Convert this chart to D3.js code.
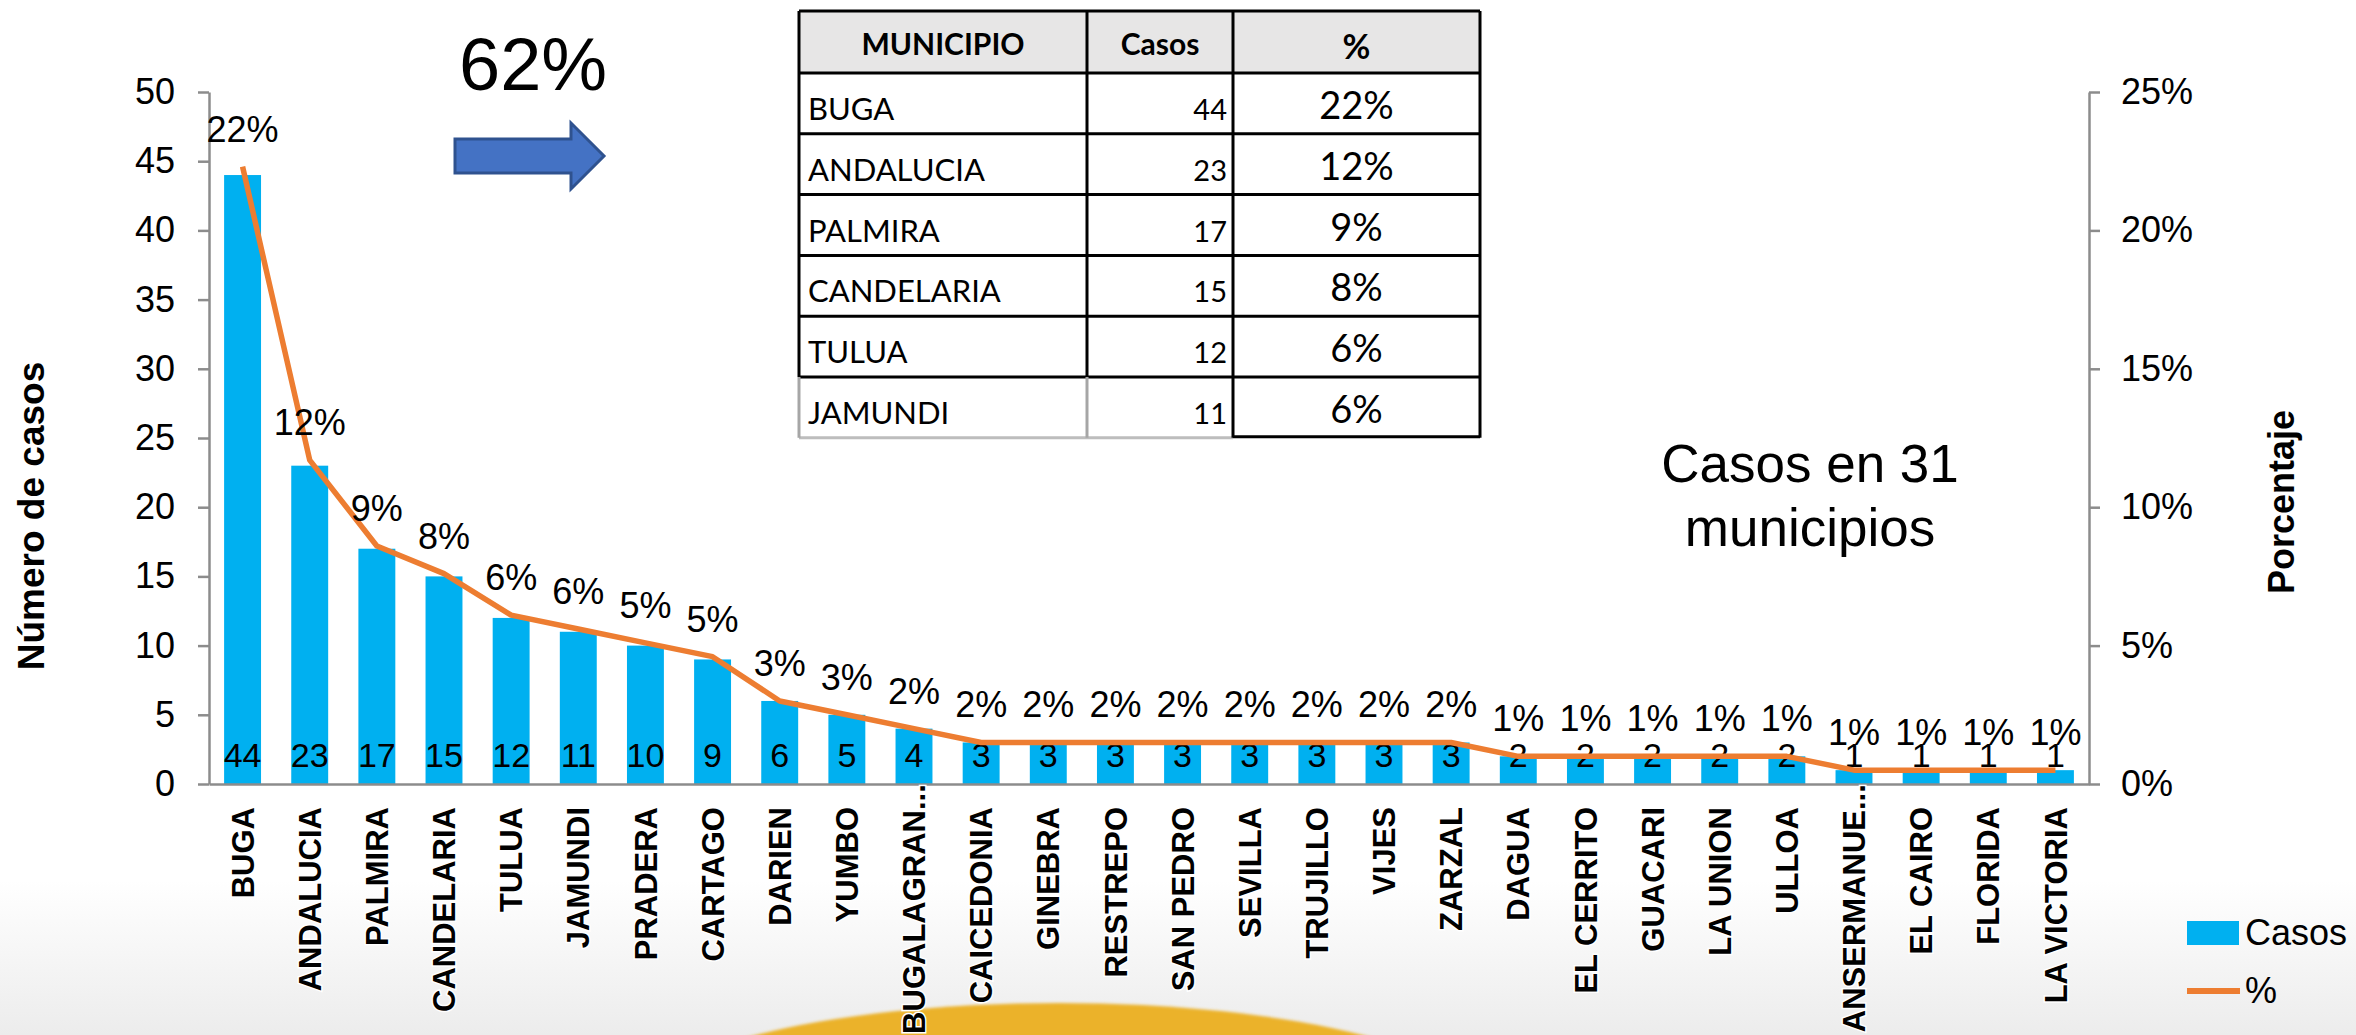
<!DOCTYPE html>
<html>
<head>
<meta charset="utf-8">
<script src="https://cdn.jsdelivr.net/npm/d3@7"></script>
<style>
  body { margin: 0; background: #fff; }
  svg { display: block; font-family: "Liberation Sans", Arial, sans-serif; }
</style>
</head>
<body>
<svg width="2356" height="1035"></svg>
<script>
// datos del grafico
const municipios = ["BUGA", "ANDALUCIA", "PALMIRA", "CANDELARIA", "TULUA", "JAMUNDI", "PRADERA", "CARTAGO",
  "DARIEN", "YUMBO", "BUGALAGRAN...", "CAICEDONIA", "GINEBRA", "RESTREPO", "SAN PEDRO", "SEVILLA",
  "TRUJILLO", "VIJES", "ZARZAL", "DAGUA", "EL CERRITO", "GUACARI", "LA UNION", "ULLOA",
  "ANSERMANUE...", "EL CAIRO", "FLORIDA", "LA VICTORIA"]
const casos = [44, 23, 17, 15, 12, 11, 10, 9, 6, 5, 4, 3, 3, 3, 3, 3, 3, 3, 3, 2, 2, 2, 2, 2, 1, 1, 1, 1]
const porcentaje = [22.3, 11.7, 8.6, 7.6, 6.1, 5.6, 5.1, 4.6, 3.0, 2.5, 2.0, 1.5, 1.5, 1.5, 1.5, 1.5, 1.5, 1.5, 1.5,
  1.0, 1.0, 1.0, 1.0, 1.0, 0.5, 0.5, 0.5, 0.5]
const etiquetasPct = ["22%", "12%", "9%", "8%", "6%", "6%", "5%", "5%", "3%", "3%", "2%", "2%", "2%", "2%", "2%",
  "2%", "2%", "2%", "2%", "1%", "1%", "1%", "1%", "1%", "1%", "1%", "1%", "1%"]
const ticksCasos = [0, 5, 10, 15, 20, 25, 30, 35, 40, 45, 50]
const ticksPct = [0, 5, 10, 15, 20, 25]

// tabla resumen
const tablaMunicipio = ["BUGA", "ANDALUCIA", "PALMIRA", "CANDELARIA", "TULUA", "JAMUNDI"]
const tablaCasos = [44, 23, 17, 15, 12, 11]
const tablaPct = ["22%", "12%", "9%", "8%", "6%", "6%"]

const svg = d3.select('svg')
const width = +svg.attr('width')
const height = +svg.attr('height')

const margin = {top: 92, right: 267, bottom: 251, left: 209}
const baseY = height - margin.bottom

// fondo
const defs = svg.append('defs')
const grad = defs.append('linearGradient').attr('id', 'fondo').attr('x1', 0).attr('x2', 0).attr('y1', 0).attr('y2', 1)
grad.append('stop').attr('offset', '0%').attr('stop-color', '#ffffff')
grad.append('stop').attr('offset', '100%').attr('stop-color', '#ececec')
defs.append('filter').attr('id', 'suave').append('feGaussianBlur').attr('stdDeviation', 1.5)

svg.append('rect').attr('x', 0).attr('y', 880).attr('width', width).attr('height', height - 880)
  .attr('fill', 'url(#fondo)')
svg.append('ellipse').attr('cx', 1059).attr('cy', 1113).attr('rx', 430).attr('ry', 110)
  .attr('fill', '#ebb22c').attr('filter', 'url(#suave)')

const xScale = d3.scaleBand()
  .domain(municipios)
  .range([margin.left, 2089])
  .paddingInner(0.45)
  .paddingOuter(0.225)

const yCasos = d3.scaleLinear().domain([0, 50]).range([baseY, margin.top])
const yPct = d3.scaleLinear().domain([0, 25]).range([baseY, margin.top])

const cx = d => xScale(d) + xScale.bandwidth() / 2

// barras
svg.append('g').selectAll('rect').data(municipios)
  .enter().append('rect')
  .attr('x', d => xScale(d))
  .attr('y', (d, i) => yCasos(casos[i]))
  .attr('width', xScale.bandwidth())
  .attr('height', (d, i) => baseY - yCasos(casos[i]))
  .attr('fill', '#00b0f0')

// ejes
const ejeColor = '#8c8c8c'
const gLeft = svg.append('g').attr('transform', `translate(${margin.left},0)`)
  .call(d3.axisLeft(yCasos).tickValues(ticksCasos).tickSize(11).tickSizeOuter(0).tickPadding(23))
const gRight = svg.append('g').attr('transform', `translate(2089,0)`)
  .call(d3.axisRight(yPct).tickValues(ticksPct).tickSize(11).tickSizeOuter(0).tickPadding(21)
    .tickFormat(d => d + '%'))
const gBottom = svg.append('g').attr('transform', `translate(0,${baseY})`)
  .call(d3.axisBottom(xScale).tickSize(0).tickSizeOuter(0))

;[gLeft, gRight, gBottom].forEach(g => {
  g.select('.domain').attr('stroke', ejeColor).attr('stroke-width', 2.5)
  g.selectAll('.tick line').attr('stroke', ejeColor).attr('stroke-width', 2.5)
  g.selectAll('text').attr('font-family', '"Liberation Sans", Arial, sans-serif').attr('fill', '#000')
})
gLeft.selectAll('text').attr('font-size', 36)
gRight.selectAll('text').attr('font-size', 36)

// nombres truncados: los puntos quedan por encima del borde, como en Excel
const puntos = svg.append('text').attr('font-size', 31).attr('font-weight', 'bold').text('...')
const anchoPuntos = puntos.node().getComputedTextLength()
puntos.remove()

gBottom.selectAll('text')
  .attr('font-size', 31)
  .attr('font-weight', 'bold')
  .attr('text-anchor', 'end')
  .attr('transform', 'rotate(-90)')
  .attr('x', d => d.endsWith('...') ? -23 + anchoPuntos - 3 : -23)
  .attr('y', 0)
  .attr('dy', '0.36em')
  .attr('stroke', '#fff')
  .attr('stroke-width', 3)
  .attr('paint-order', 'stroke')

// etiquetas de casos
svg.append('g').selectAll('text').data(municipios)
  .enter().append('text')
  .attr('x', cx)
  .attr('y', baseY - 17)
  .attr('text-anchor', 'middle')
  .attr('font-size', 34)
  .text((d, i) => casos[i])

// linea de porcentaje
const line = d3.line()
  .x(d => cx(d))
  .y((d, i) => yPct(porcentaje[i]))

svg.append('path')
  .datum(municipios)
  .attr('d', line)
  .attr('fill', 'none')
  .attr('stroke', '#ed7d31')
  .attr('stroke-width', 5.5)
  .attr('stroke-linejoin', 'round')

svg.append('g').selectAll('text').data(municipios)
  .enter().append('text')
  .attr('x', cx)
  .attr('y', (d, i) => yPct(porcentaje[i]) - 25)
  .attr('text-anchor', 'middle')
  .attr('font-size', 36)
  .text((d, i) => etiquetasPct[i])

// titulos de ejes
svg.append('text')
  .attr('transform', 'translate(44,516) rotate(-90)')
  .attr('text-anchor', 'middle')
  .attr('font-size', 37)
  .attr('font-weight', 'bold')
  .text('Número de casos')

svg.append('text')
  .attr('transform', 'translate(2294,502) rotate(-90)')
  .attr('text-anchor', 'middle')
  .attr('font-size', 36)
  .attr('font-weight', 'bold')
  .text('Porcentaje')

// anotaciones
svg.append('text').attr('x', 459).attr('y', 90).attr('font-size', 74).text('62%')

svg.append('path')
  .attr('d', 'M455,139 L571,139 L571,123 L604,156 L571,189 L571,173 L455,173 Z')
  .attr('fill', '#4472c4')
  .attr('stroke', '#2f528f')
  .attr('stroke-width', 3)

svg.append('text').attr('x', 1810).attr('y', 482).attr('text-anchor', 'middle')
  .attr('font-size', 53).text('Casos en 31')
svg.append('text').attr('x', 1810).attr('y', 546).attr('text-anchor', 'middle')
  .attr('font-size', 53).text('municipios')

// leyenda
const leg = svg.append('g')
leg.append('rect').attr('x', 2187).attr('y', 921).attr('width', 52).attr('height', 24).attr('fill', '#00b0f0')
leg.append('text').attr('x', 2245).attr('y', 945).attr('font-size', 36).text('Casos')
leg.append('line').attr('x1', 2187).attr('x2', 2240).attr('y1', 991).attr('y2', 991)
  .attr('stroke', '#ed7d31').attr('stroke-width', 6)
leg.append('text').attr('x', 2245).attr('y', 1003).attr('font-size', 36).text('%')

// tabla
const tabla = svg.append('g').attr('font-family', 'Lato, "Open Sans", sans-serif')
const colX = [799, 1087, 1233, 1480]
const tTop = 11
const headH = 62
const rowH = 60.8
const tBottom = tTop + headH + rowH * tablaMunicipio.length

tabla.append('rect').attr('x', colX[0]).attr('y', tTop).attr('width', colX[3] - colX[0]).attr('height', headH)
  .attr('fill', '#e7e6e6')

const headers = ['MUNICIPIO', 'Casos', '%']
tabla.selectAll('.hdr').data(headers).enter().append('text')
  .attr('x', (d, i) => (colX[i] + colX[i + 1]) / 2)
  .attr('y', (d, i) => i === 2 ? tTop + 48 : tTop + 44)
  .attr('text-anchor', 'middle')
  .attr('font-weight', 'bold')
  .attr('font-size', (d, i) => i === 2 ? 34 : 30)
  .text(d => d)

const rowY = i => tTop + headH + rowH * i

tabla.selectAll('.mun').data(tablaMunicipio).enter().append('text')
  .attr('x', colX[0] + 9)
  .attr('y', (d, i) => rowY(i) + 47)
  .attr('font-size', 31)
  .text(d => d)

tabla.selectAll('.cas').data(tablaCasos).enter().append('text')
  .attr('x', colX[2] - 6)
  .attr('y', (d, i) => rowY(i) + 47)
  .attr('text-anchor', 'end')
  .attr('font-size', 29)
  .text(d => d)

tabla.selectAll('.pct').data(tablaPct).enter().append('text')
  .attr('x', (colX[2] + colX[3]) / 2)
  .attr('y', (d, i) => rowY(i) + 46)
  .attr('text-anchor', 'middle')
  .attr('font-size', 38)
  .text(d => d)

// lineas de la tabla
const lastRow = rowY(tablaMunicipio.length - 1)
const bordes = tabla.append('g').attr('stroke-width', 3).attr('fill', 'none')
d3.range(tablaMunicipio.length + 1).forEach(i => {
  const y = i === 0 ? tTop : rowY(i - 1)
  bordes.append('line').attr('x1', colX[0]).attr('x2', colX[3]).attr('y1', y).attr('y2', y).attr('stroke', '#000')
})
bordes.append('line').attr('x1', colX[0]).attr('x2', colX[2]).attr('y1', tBottom).attr('y2', tBottom).attr('stroke', '#bdbdbd')
bordes.append('line').attr('x1', colX[2]).attr('x2', colX[3]).attr('y1', tBottom - 1).attr('y2', tBottom - 1).attr('stroke', '#000')
colX.forEach((x, i) => {
  bordes.append('line').attr('x1', x).attr('x2', x).attr('y1', tTop).attr('y2', i >= 2 ? tBottom : lastRow)
    .attr('stroke', '#000')
  if (i < 2) {
    bordes.append('line').attr('x1', x).attr('x2', x).attr('y1', lastRow).attr('y2', tBottom)
      .attr('stroke', '#a6a6a6')
  }
})
</script>
</body>
</html>
